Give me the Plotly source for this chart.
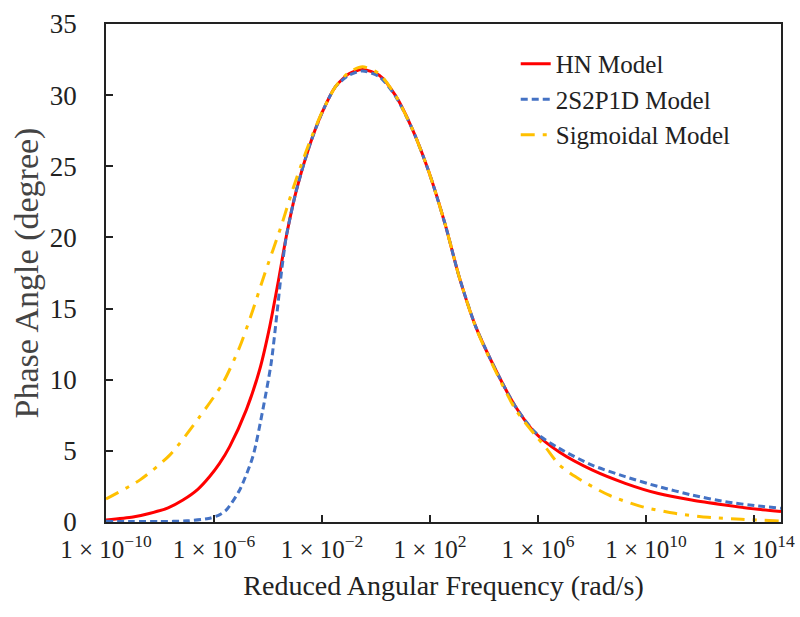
import plotly.graph_objects as go

# log10 of reduced angular frequency (rad/s) and phase angle (degree)
hn_logw = [-10, -9, -8.4, -7.7, -7.15, -6.6, -6.16, -5.8, -5.42, -4.8, -4.31, -3.94, -3.61,
           -3.32, -2.95, -2.47, -1.99, -1.5, -1.0, -0.5, 0.12, 0.73, 1.35, 1.96, 2.58, 3.07,
           3.69, 4.43, 5.17, 5.9, 6.8, 8.0, 9.23, 10.46, 11.69, 12.92, 14.15, 15]
hn_phase = [0.14, 0.35, 0.6, 1.0, 1.55, 2.3, 3.2, 4.1, 5.3, 7.9, 10.7, 13.7, 17.0,
            20.1, 23.3, 26.4, 28.8, 30.6, 31.5, 31.8, 31.4, 29.95, 27.6, 24.6, 20.8, 17.3,
            13.75, 10.7, 8.1, 6.25, 4.9, 3.66, 2.72, 2.0, 1.55, 1.2, 0.89, 0.73]

s2p_logw = [-10, -9, -8, -7, -6.2, -5.8, -5.54, -5.05, -4.56, -4.19, -3.88, -3.66, -3.5,
            -3.32, -2.95, -2.47, -1.99, -1.5, -1.0, -0.5, 0.12, 0.73, 1.35, 1.96, 2.58, 3.07,
            3.69, 4.43, 5.17, 5.9, 6.77, 8.0, 9.23, 10.46, 11.69, 12.92, 14.15, 15]
s2p_phase = [0.05, 0.03, 0.03, 0.08, 0.25, 0.5, 0.85, 2.25, 4.6, 7.9, 11.2, 14.8, 17.6,
             20.1, 23.3, 26.4, 28.8, 30.6, 31.4, 31.7, 31.3, 29.9, 27.6, 24.6, 20.8, 17.3,
             13.75, 10.7, 8.1, 6.3, 5.19, 4.0, 3.19, 2.49, 1.9, 1.43, 1.13, 0.96]

sig_logw = [-10, -8.74, -7.64, -6.53, -5.67, -5.05, -4.56, -4.13, -3.51, -3.08, -2.5, -2.0,
            -1.5, -1.0, -0.5, 0.12, 0.73, 1.35, 1.96, 2.58, 3.07, 3.69, 4.43, 5.17, 5.9,
            6.3, 6.77, 7.38, 8.61, 9.84, 11.07, 12.3, 13.53, 15]
sig_phase = [1.62, 2.96, 4.7, 7.4, 9.77, 12.3, 14.9, 17.4, 20.8, 23.4, 26.5, 28.8,
             30.6, 31.6, 32.0, 31.5, 29.95, 27.6, 24.6, 20.8, 17.3, 13.7, 10.6, 7.9, 6.1,
             5.2, 4.05, 3.19, 1.9, 1.08, 0.61, 0.33, 0.19, 0.07]

x_tick_exps = [-10, -6, -2, 2, 6, 10, 14]
x_tick_text = ["1 × 10<sup>−10</sup>", "1 × 10<sup>−6</sup>", "1 × 10<sup>−2</sup>",
               "1 × 10<sup>2</sup>", "1 × 10<sup>6</sup>", "1 × 10<sup>10</sup>",
               "1 × 10<sup>14</sup>"]
y_ticks = [0, 5, 10, 15, 20, 25, 30, 35]

font_family = "Liberation Serif, Times New Roman, serif"

fig = go.Figure()
fig.add_trace(go.Scatter(x=[10 ** e for e in hn_logw], y=hn_phase, mode="lines",
                         name="HN Model", line=dict(color="#FF0000", width=3, shape="spline", smoothing=0.7)))
fig.add_trace(go.Scatter(x=[10 ** e for e in s2p_logw], y=s2p_phase, mode="lines",
                         name="2S2P1D Model", line=dict(color="#4472C4", width=3, dash="7px,4px", shape="spline", smoothing=0.7)))
fig.add_trace(go.Scatter(x=[10 ** e for e in sig_logw], y=sig_phase, mode="lines",
                         name="Sigmoidal Model", line=dict(color="#FFC000", width=3, dash="14px,8px,4px,8px", shape="spline", smoothing=0.7)))

fig.update_layout(
    width=800, height=617,
    margin=dict(l=106, r=19, t=24, b=95),
    paper_bgcolor="white", plot_bgcolor="white",
    font=dict(family=font_family, size=26, color="#222222"),
    showlegend=True,
    legend=dict(x=0.607, y=0.966, xanchor="left", yanchor="top",
                bgcolor="rgba(255,255,255,0)", font=dict(size=25, family=font_family),
                tracegroupgap=0),
    xaxis=dict(type="log", range=[-10, 15], automargin=False,
               tickvals=[10 ** e for e in x_tick_exps], ticktext=x_tick_text,
               ticks="inside", ticklen=7, tickwidth=1.5, tickcolor="#222222",
               showline=True, linecolor="#222222", linewidth=1.5, mirror=True,
               showgrid=False, zeroline=False, ticklabelstandoff=4,
               tickfont=dict(size=25, family=font_family),
               title=dict(text="Reduced Angular Frequency (rad/s)", standoff=14,
                          font=dict(size=28, family=font_family))),
    yaxis=dict(range=[0, 35], tickvals=y_ticks, automargin=False,
               ticks="inside", ticklen=7, tickwidth=1.5, tickcolor="#222222",
               showline=True, linecolor="#222222", linewidth=1.5, mirror=True,
               showgrid=False, zeroline=False, ticklabelstandoff=22,
               tickfont=dict(size=27, family=font_family),
               title=dict(text="Phase Angle (degree)", standoff=1,
                          font=dict(size=34, family=font_family, color="#444444"))),
)

fig.write_html("out.html", config={"displayModeBar": False},
               post_script="document.body.style.margin='0';document.body.style.overflow='hidden';")
